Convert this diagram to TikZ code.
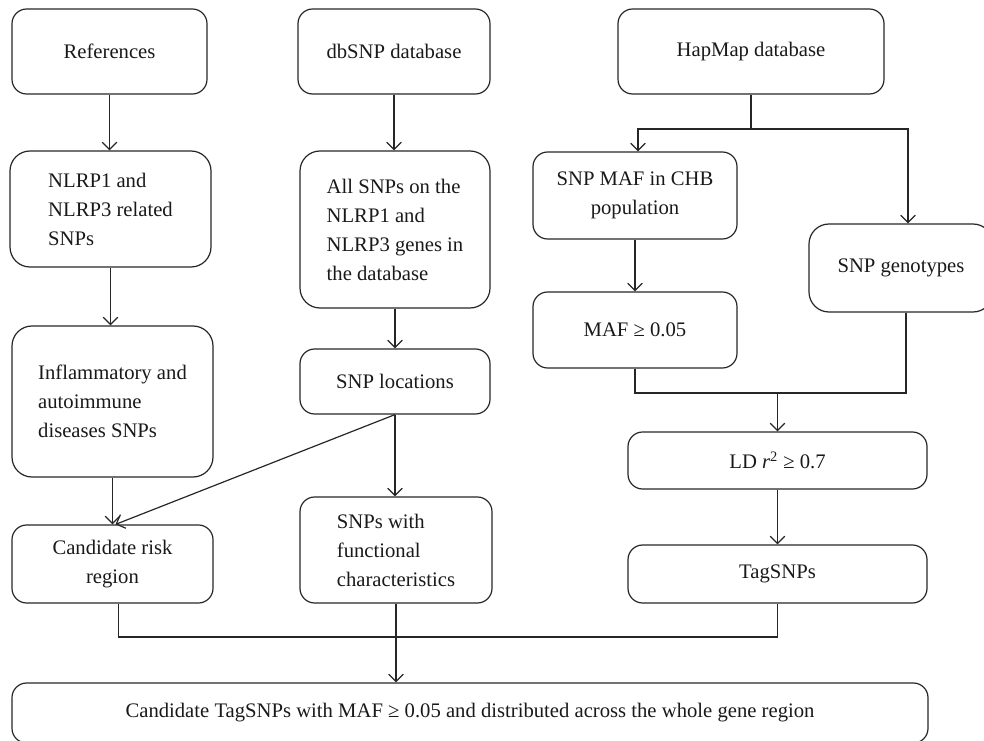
\documentclass[tikz,border=0pt]{standalone}
\usepackage{fontspec}
\setmainfont{Liberation Serif}
\usetikzlibrary{arrows.meta,calc}
\begin{document}
\begin{tikzpicture}[x=0.75pt,y=-0.75pt,
  box/.style={draw=black!85, line width=0.9pt, rounded corners=11pt, inner sep=0pt, align=center, text=black!90, font=\fontsize{15.5pt}{21.75pt}\selectfont},
  lbox/.style={box, align=left},
  tall/.style={rounded corners=15pt},
  sz/.style 2 args={minimum width=#1*0.75pt, minimum height=#2*0.75pt},
  conn/.style={draw=black!85, line width=0.9pt},
  arr/.style={conn, -{Straight Barb[length=5.5pt,width=11pt]}}]
\useasboundingbox (0,0) rectangle (984,741);
% nodes
\node[box, sz={195}{85}] (ref) at (109.5,51.5) {References};
\node[box, sz={192}{85}] (dbsnp) at (394,51.5) {dbSNP database};
\node[box, sz={266}{85}] (hap) at (751,51.5) {HapMap database};
\node[lbox, tall, sz={201}{116}] (nlrp) at (110.5,209) {NLRP1 and\\NLRP3 related\\SNPs};
\node[lbox, tall, sz={201}{151}] (infl) at (112.5,401.5) {Inflammatory and\\autoimmune\\diseases SNPs};
\node[box, sz={201}{78}] (crisk) at (112.5,564) {Candidate risk\\region};
\node[lbox, tall, sz={190}{157}] (allsnp) at (395,229.5) {All SNPs on the\\NLRP1 and\\NLRP3 genes in\\the database};
\node[box, sz={190}{65}] (loc) at (395,381.5) {SNP locations};
\node[lbox, sz={192}{106}] (func) at (396,550) {SNPs with\\functional\\characteristics};
\node[box, sz={204}{87}] (maf1) at (635,195.5) {SNP MAF in CHB\\population};
\node[box, sz={204}{76}] (maf2) at (635,330) {MAF ≥ 0.05};
\node[box, tall, sz={184}{88}] (geno) at (901,268) {SNP genotypes};
\node[box, sz={299}{57}] (ld) at (777.5,460.5) {LD \textit{r}\textsuperscript{2} ≥ 0.7};
\node[box, sz={299}{58}] (tag) at (777.5,574) {TagSNPs};
\node[box, sz={916}{60}] (final) at (470,713) {Candidate TagSNPs with MAF ≥ 0.05 and distributed across the whole gene region};
% connectors
\draw[arr] (ref.south) -- (ref.south |- nlrp.north);
\draw[arr] (nlrp.south) -- (nlrp.south |- infl.north);
\draw[arr] (infl.south) -- (infl.south |- crisk.north);
\draw[arr] (dbsnp.south) -- (dbsnp.south |- allsnp.north);
\draw[arr] (allsnp.south) -- (allsnp.south |- loc.north);
\draw[arr] (loc.south) -- (loc.south |- func.north);
\draw[arr] (loc.south) -- ($(crisk.north)+(3,0)$);
\coordinate (hs) at (751,129);
\draw[conn] (hap.south) -- (hap.south |- hs);
\draw[arr] (hap.south |- hs) -| ($(maf1.north)+(3,0)$);
\draw[arr] (hap.south |- hs) -| ($(geno.north)+(7,0)$);
\draw[arr] (maf1.south) -- (maf1.south |- maf2.north);
\coordinate (m2) at (777,393);
\draw[conn] (maf2.south) |- (m2);
\draw[conn] ($(geno.south)+(5,0)$) |- (m2);
\draw[arr] (ld.north |- m2) -- (ld.north);
\draw[arr] (ld.south) -- (ld.south |- tag.north);
\coordinate (bm) at (398,637);
\draw[conn] ($(crisk.south)+(6,0)$) |- (tag.south |- bm) -- (tag.south);
\draw[arr] (func.south) -- (func.south |- final.north);
\end{tikzpicture}
\end{document}
